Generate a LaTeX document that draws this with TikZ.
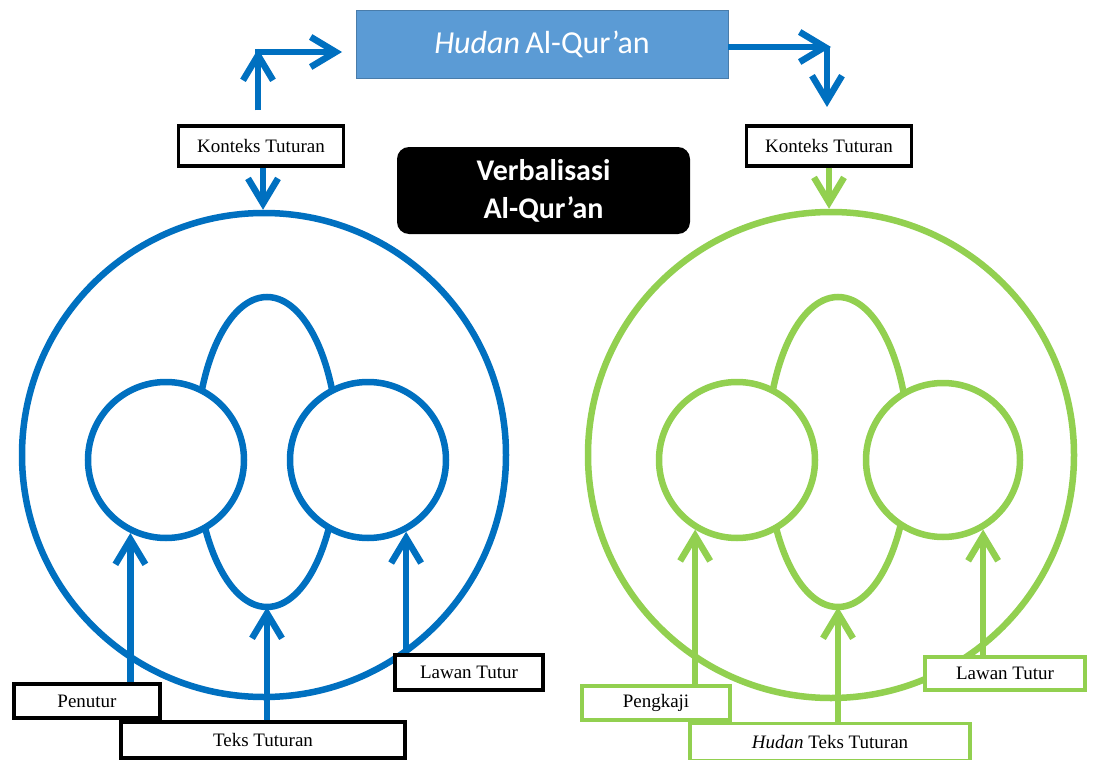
\documentclass[tikz,border=0pt]{standalone}
\usepackage{fontspec}
\setmainfont{Liberation Serif}
\newfontfamily\calfont{Carlito}
\usetikzlibrary{arrows.meta}
\definecolor{cblue}{RGB}{0,112,192}
\definecolor{cgreen}{RGB}{146,208,80}
\definecolor{boxblue}{RGB}{91,155,213}
\begin{document}
\begin{tikzpicture}[x=1pt,y=-1pt,
  lbl/.style={draw=black, line width=3.2pt, fill=white, inner sep=0pt,
    font=\fontsize{19}{22}\selectfont},
  glbl/.style={lbl, draw=cgreen},
  ring/.style={circle, draw, line width=6.5pt, inner sep=0pt},
  arr/.style={line width=6.5pt, -{Straight Barb[length=25pt,width=30pt]}}
]
\useasboundingbox[fill=white] (0,0) rectangle (1104,760);

% ---------- left (blue) ----------
\node[ring, draw=cblue, minimum size=484pt] (bigL) at (264,455) {};
\draw[cblue, line width=6.5pt] (267,452) ellipse [x radius=71, y radius=155];
\coordinate (ovL) at (267,607);
\node[ring, draw=cblue, fill=white, minimum size=156pt] (lcL) at (166,460) {};
\node[ring, draw=cblue, fill=white, minimum size=156pt] (rcL) at (368,460) {};

\node[lbl, minimum width=165pt, minimum height=40pt] (kl) at (261,146) {Konteks Tuturan};
\node[lbl, minimum width=146pt, minimum height=34pt] (pen) at (87,701) {Penutur};
\node[lbl, minimum width=284pt, minimum height=36pt] (teks) at (263,740) {Teks Tuturan};
\node[lbl, minimum width=148pt, minimum height=35pt] (lawl) at (469,672.5) {Lawan Tutur};

\draw[arr, cblue] (lcL.-116 |- pen.north) -- (lcL.-116);
\draw[arr, cblue] (ovL |- teks.north) -- (ovL);
\draw[arr, cblue] (rcL.-62 |- lawl.north) -- (rcL.-62);
\draw[arr, cblue] ([xshift=2pt]kl.south) -- ([xshift=2pt]kl.south |- bigL.north);

% ---------- right (green) ----------
\node[ring, draw=cgreen, minimum size=486pt] (bigR) at (831,455) {};
\draw[cgreen, line width=6.5pt] (838,452) ellipse [x radius=71, y radius=155];
\coordinate (ovR) at (838,607);
\node[ring, draw=cgreen, fill=white, minimum size=156pt] (lcR) at (737,460) {};
\node[ring, draw=cgreen, fill=white, minimum size=154pt] (rcR) at (943,460) {};

\node[lbl, minimum width=165pt, minimum height=40pt] (kr) at (829,146) {Konteks Tuturan};
\node[glbl, minimum width=148pt, minimum height=34pt] (peng) at (656,703) {Pengkaji};
\node[glbl, minimum width=280pt, minimum height=37pt] (hteks) at (830,742) {\textit{Hudan} Teks Tuturan};
\node[glbl, minimum width=160pt, minimum height=33pt] (lawr) at (1005,673.5) {Lawan Tutur};

\draw[arr, cgreen] (lcR.-121 |- peng.north) -- (lcR.-121);
\draw[arr, cgreen] (ovR |- hteks.north) -- (ovR);
\draw[arr, cgreen] (rcR.-60 |- lawr.north) -- (rcR.-60);
\draw[arr, cgreen] (kr.south) -- (kr.south |- bigR.north);

% ---------- top ----------
\node[fill=boxblue, draw=boxblue!80!black, line width=0.6pt, minimum width=372pt, minimum height=68pt,
  text=white, font=\calfont\fontsize{32}{36}\selectfont] (hud) at (542,44) {\textit{Hudan}\,Al-Qur’an};
\node[fill=black, rounded corners=12pt, minimum width=293pt, minimum height=87pt, align=center,
  text=white, font=\calfont\bfseries\fontsize{30}{38}\selectfont] (verb) at (543.5,190.5) {Verbalisasi\\Al-Qur’an};

\coordinate (cl) at (258,52);
\coordinate (tl) at (258,49);
\coordinate (hl) at (342,52);
\draw[arr, cblue, shorten <=14pt] (kl.north -| cl) -- (tl);
\draw[arr, cblue] ([xshift=-3pt]cl) -- (hl);

\coordinate (cr) at (827,47);
\coordinate (hr) at (831,47);
\coordinate (br) at (827,107);
\draw[arr, cblue] (hud.east |- cr) -- (hr);
\draw[arr, cblue] (cr) -- (br);
\end{tikzpicture}
\end{document}
